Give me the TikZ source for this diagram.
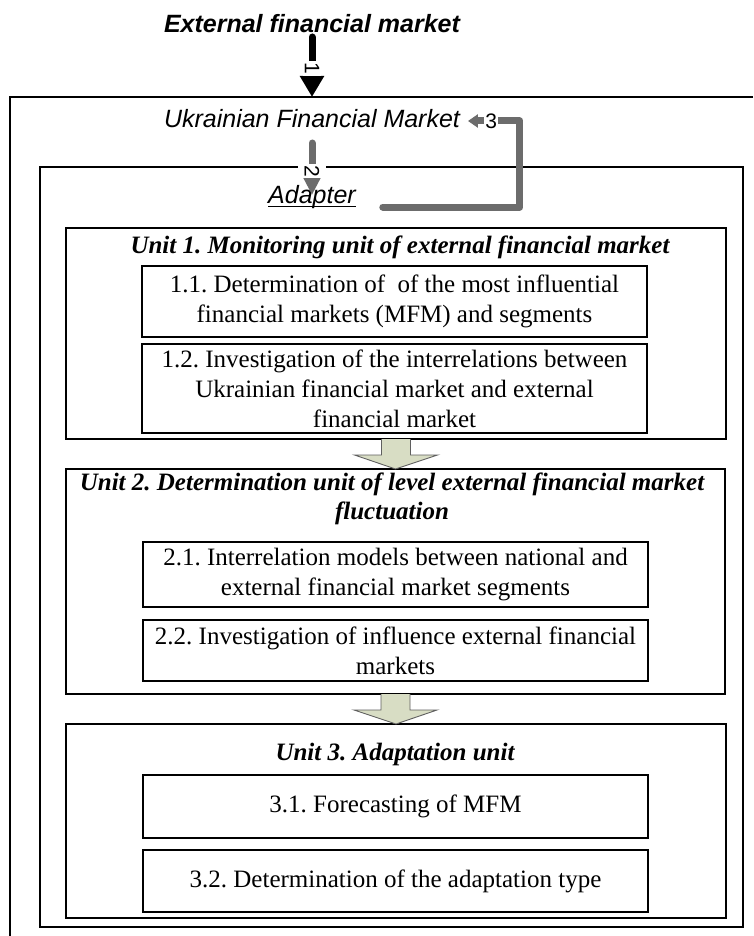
\documentclass[tikz,border=0pt]{standalone}
\usepackage{fontspec}
\setmainfont{Liberation Serif}
\newfontfamily\arialfont{Liberation Sans}
\usetikzlibrary{arrows.meta,calc}
\frenchspacing

\definecolor{connGray}{RGB}{108,108,108}
\definecolor{flowFill}{RGB}{216,221,196}
\definecolor{flowEdge}{RGB}{95,95,95}

\newcommand{\diagbody}{\fontsize{25}{30}\selectfont}
\newcommand{\diagtitle}{\fontsize{25}{29}\selectfont\bfseries\itshape}
\newcommand{\diagsans}{\arialfont\fontsize{25}{30}\selectfont}
\newcommand{\diaglabel}{\arialfont\fontsize{21}{21}\selectfont}

\begin{document}
\begin{tikzpicture}[x=1pt,y=-1pt,
  every node/.style={inner sep=0pt, outer sep=0pt},
  frame/.style={draw=black, line width=1.1pt},
  unitbox/.style={frame, minimum width=#1},
  itembox/.style={frame, minimum width=505pt, align=center, font=\diagbody},
  unittitle/.style={font=\diagtitle, align=center},
  flowarrow/.style={draw=flowEdge, fill=flowFill, line width=0.9pt, line join=miter},
  conn/.style={line width=7pt, line cap=round, line join=round},
  connlabel/.style={font=\diaglabel, text=black, fill=white, inner xsep=1.5pt, inner ysep=1.5pt}
]
\useasboundingbox (0,0) rectangle (753,936);
\fill[white] (0,0) rectangle (753,936);

% outer frame: Ukrainian financial market
\draw[frame] (753,97) -- (10,97) -- (10,936);
\coordinate (frametop) at (312,97);

% adapter frame
\node[frame, minimum width=703pt, minimum height=760pt] (adapterbox) at (391.5,547) {};

% unit 1
\node[unitbox=660pt, minimum height=211pt] (unit1) at (396,333.5) {};
\node[unittitle, anchor=base] (title1) at (400,253) {Unit 1. Monitoring unit of external financial market};
\node[itembox, minimum height=71pt] (item11) at (394.5,301.5)
  {1.1. Determination of\ \ of the most influential\\financial markets (MFM) and segments};
\node[itembox, minimum height=89pt] (item12) at (394.5,388.5)
  {1.2. Investigation of the interrelations between\\Ukrainian financial market and external\\financial market};

% unit 2
\node[unitbox=659pt, minimum height=225pt] (unit2) at (395.5,581.5) {};
\node[unittitle] (title2) at (392,499)
  {Unit 2. Determination unit of level external financial market\\fluctuation};
\node[itembox, minimum height=65pt] (item21) at (395.5,574.5)
  {2.1. Interrelation models between national and\\external financial market segments};
\node[itembox, minimum height=61pt] (item22) at (395.5,650.5)
  {2.2. Investigation of influence external financial\\markets};

% unit 3
\node[unitbox=660pt, minimum height=194pt] (unit3) at (396,821) {};
\node[unittitle, anchor=base] (title3) at (395,760) {Unit 3. Adaptation unit};
\node[itembox, minimum height=63pt] (item31) at (395.5,806.5) {3.1. Forecasting of MFM};
\node[itembox, minimum height=62pt] (item32) at (395.5,881) {3.2. Determination of the adaptation type};

% block arrows between the units
\draw[flowarrow] ($(unit1.south)+(-14.5,0)$) -- ++(0,16) -- ++(-27,0)
  -- (unit2.north) -- ($(unit1.south)+(41.5,16)$) -- ++(-27,0)
  -- ($(unit1.south)+(14.5,0)$);
\draw[flowarrow] ($(unit2.south)+(-14.5,0)$) -- ++(0,16) -- ++(-27,0)
  -- (unit3.north) -- ($(unit2.south)+(41.5,16)$) -- ++(-27,0)
  -- ($(unit2.south)+(14.5,0)$);

% text labels of the markets and the adapter
\node[font=\diagsans\bfseries\itshape, anchor=base] (ext) at (312,33) {External financial market};
\node[font=\diagsans\itshape, anchor=base] (ufm) at (312,128) {Ukrainian Financial Market};
\node[font=\diagsans\itshape, anchor=base] (adapter) at (312,204)
  {\sbox0{Adapter}\rlap{\rule[-3.5pt]{\wd0}{1.3pt}}\usebox0};

% connectors
\draw[conn, black, -{Triangle[length=21pt,width=23pt]}]
  ([shift={(0,4)}]ext.base) -- node[connlabel, rotate=-90, pos=0.525] (lab1) {1} (frametop);
\draw[conn, connGray, -{Triangle[length=18pt,width=17pt]}]
  ([shift={(0,15)}]ufm.base) -- node[connlabel, rotate=-90, pos=0.54, inner ysep=7pt] (lab2) {2}
  ([shift={(0,-9)}]adapter.base);
\draw[conn, connGray, -{Triangle[length=10pt,width=13pt]}]
  ([shift={(27,3)}]adapter.base east) -- ++(137,0) -- ++(0,-86)
  -- node[connlabel, pos=0.55, inner xsep=1pt] (lab3) {3} ([shift={(8,-7)}]ufm.base east);
\end{tikzpicture}
\end{document}
